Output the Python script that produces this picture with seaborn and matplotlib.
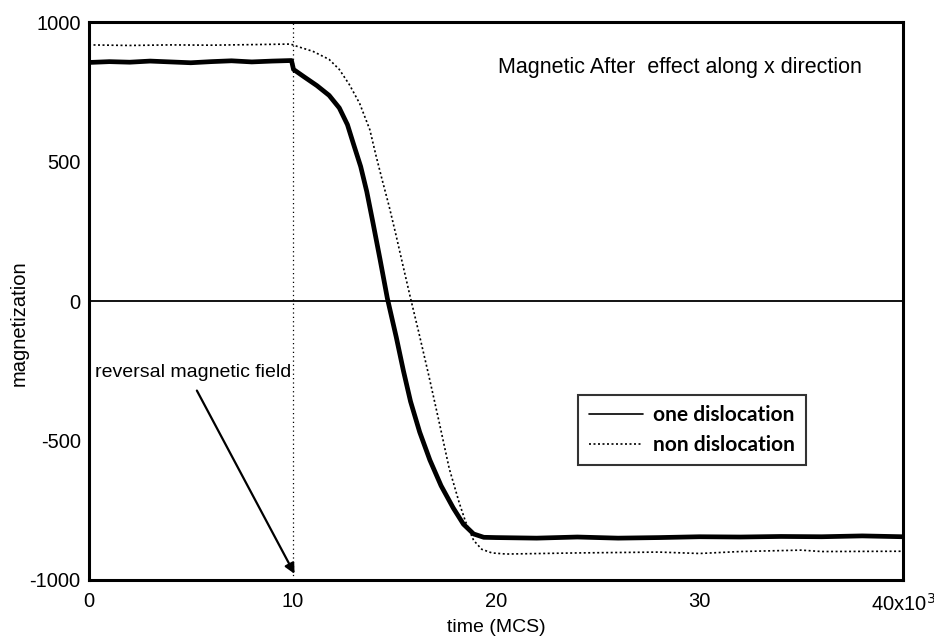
import matplotlib
matplotlib.use("Agg")
import matplotlib.pyplot as plt
import seaborn as sns
import pandas as pd

# time in units of 10^3 MCS
t_one = [0, 1, 2, 3, 4, 5, 6, 7, 8, 9, 9.95, 10.05, 10.6, 11.2, 11.8, 12.3,
         12.7, 13.0, 13.35, 13.65, 13.95, 14.3, 14.66, 15.1, 15.45, 15.8,
         16.25, 16.75, 17.3, 17.9, 18.4, 18.9, 19.4, 20, 22, 24, 26, 28, 30,
         32, 34, 36, 38, 40]
m_one = [855, 858, 856, 860, 857, 854, 858, 861, 857, 860, 862, 830, 802, 772,
         737, 692, 632, 562, 482, 392, 282, 150, 10, -130, -250, -360, -470,
         -570, -662, -742, -800, -835, -847, -848, -850, -846, -850, -848,
         -845, -846, -844, -845, -842, -845]

t_non = [0, 2, 4, 6, 8, 9.9, 10.3, 11, 11.8, 12.3, 12.8, 13.3, 13.8, 14.1,
         14.4, 14.75, 15.1, 15.4, 15.8, 16.2, 16.7, 17.2, 17.7, 18.2, 18.5,
         18.9, 19.3, 19.8, 20.5, 24, 28, 30, 32, 35, 36, 40]
m_non = [918, 916, 918, 917, 919, 921, 911, 895, 866, 830, 775, 708, 614, 522,
         436, 339, 232, 136, 10, -111, -268, -432, -600, -725, -790, -858,
         -890, -903, -907, -903, -900, -905, -898, -893, -898, -897]

x_ticks = [0, 10, 20, 30, 40]
x_labels = ["0", "10", "20", "30", "40x10$^3$"]
y_ticks = [-1000, -500, 0, 500, 1000]
field_time = 10

sns.set_style("white")
plt.rcParams["font.family"] = ["Liberation Sans", "DejaVu Sans"]
plt.rcParams["axes.unicode_minus"] = False
plt.rcParams["text.color"] = "black"
plt.rcParams["axes.labelcolor"] = "black"

df_one = pd.DataFrame({"t": t_one, "m": m_one})
df_non = pd.DataFrame({"t": t_non, "m": m_non})

fig = plt.figure(figsize=(9.34, 6.44), dpi=100)
ax = fig.add_axes([0.0953, 0.0994, 0.8715, 0.8664])

sns.lineplot(data=df_one, x="t", y="m", ax=ax, color="black", linewidth=3.4,
             label="one dislocation", estimator=None)
sns.lineplot(data=df_non, x="t", y="m", ax=ax, color="black", linewidth=1.2,
             linestyle=(0, (1.2, 1.5)), label="non dislocation", estimator=None)

ax.axhline(0, color="black", linewidth=1.3, zorder=1)
ax.axvline(field_time, color="black", linewidth=0.9, linestyle=(0, (1, 2.5)), zorder=1)

ax.set_xlim(0, 40)
ax.set_ylim(-1000, 1000)
ax.set_xticks(x_ticks)
ax.set_xticklabels(x_labels)
ax.set_yticks(y_ticks)
ax.tick_params(direction="in", length=8, width=1.5, labelsize=14.5,
               colors="black")
ax.tick_params(axis="x", pad=9)
ax.tick_params(axis="y", pad=6)
for s in ax.spines.values():
    s.set_linewidth(2.2)
    s.set_color("black")

ax.set_xlabel("time (MCS)", fontsize=14, labelpad=3)
ax.set_ylabel("magnetization", fontsize=14.5, labelpad=4)
ax.yaxis.set_label_coords(-0.074, 0.46)

ax.text(20.1, 836, "Magnetic After  effect along x direction", fontsize=15.5,
        va="center", ha="left")
ax.text(0.3, -258, "reversal magnetic field", fontsize=14, va="center", ha="left")
ax.annotate("", xy=(10.1, -978), xytext=(5.3, -321),
            arrowprops=dict(arrowstyle="-|>", color="black", lw=1.6,
                            shrinkA=0, shrinkB=0, mutation_scale=15))

leg = ax.legend(loc="upper left", bbox_to_anchor=(0.601, 0.3315),
                frameon=True, fancybox=False, handlelength=2.6,
                borderpad=0.5, labelspacing=0.45, handletextpad=0.5,
                borderaxespad=0.0,
                prop={"family": ["Lato", "DejaVu Sans"], "weight": "bold", "size": 15})
leg.get_frame().set_edgecolor("black")
leg.get_frame().set_linewidth(1.5)
for h in leg.get_lines():
    h.set_linewidth(1.2)

fig.savefig("out.png", dpi=100)
